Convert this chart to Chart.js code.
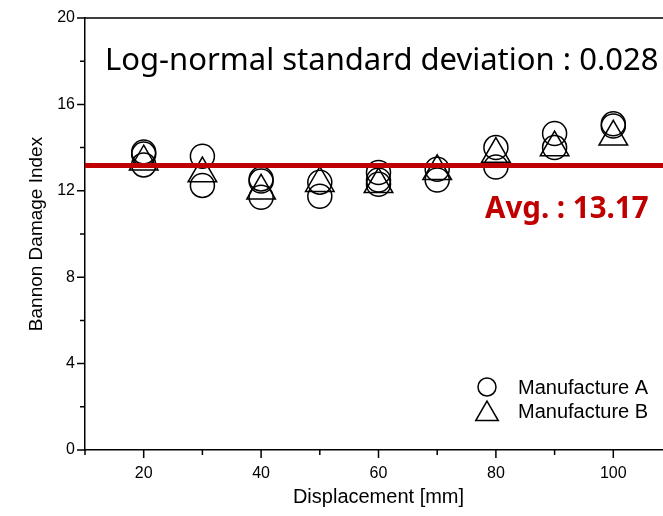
<!DOCTYPE html>
<html>
<head>
<meta charset="utf-8">
<script src="https://cdn.jsdelivr.net/npm/chart.js@4/dist/chart.umd.min.js"></script>
<style>
  html, body { margin: 0; padding: 0; background: #fff; overflow: hidden; }
  #wrap { width: 690px; height: 516px; }
</style>
</head>
<body>
<div id="wrap"><canvas id="cvs" width="690" height="516"></canvas></div>
<script>
// Bannon damage index per specimen, by displacement [mm]
const dispA = [20, 20, 20, 30, 30, 40, 40, 40, 50, 50, 60, 60, 60, 70, 70, 80, 80, 90, 90, 100, 100]
const bdiA = [13.8, 13.7, 13.2, 13.6, 12.25, 12.55, 12.45, 11.7, 12.4, 11.75, 12.85, 12.5, 12.3, 13.0, 12.5, 14.0, 13.1, 14.65, 14.0, 15.1, 15.0]
const dispB = [20, 30, 40, 50, 60, 70, 80, 90, 100]
const bdiB = [13.35, 12.8, 12.0, 12.35, 12.3, 12.9, 13.7, 14.0, 14.5]
const avgBdi = 13.17
const logStd = 0.028
const xTicks = [20, 40, 60, 80, 100]
const yTicks = [0, 4, 8, 12, 16, 20]

const ptsA = dispA.map((d, i) => ({x: d, y: bdiA[i]}))
const ptsB = dispB.map((d, i) => ({x: d, y: bdiB[i]}))

const tickFont = {family: '"Liberation Sans", Arial, sans-serif', size: 16}
const yTitleFont = {family: '"Liberation Sans", Arial, sans-serif', size: 19}
const xTitleFont = {family: '"Liberation Sans", Arial, sans-serif', size: 20}

// outward ticks (long for labelled, short for minor) + box border
const frame = {
    id: 'frame',
    afterDraw(chart) {
        const {ctx, chartArea: a, scales: {x, y}} = chart
        ctx.save()
        ctx.strokeStyle = '#000'
        ctx.lineWidth = 1.5
        ctx.beginPath()
        ctx.moveTo(a.left, a.top)
        ctx.lineTo(a.right, a.top)
        ctx.lineTo(a.right, a.bottom)
        for (const t of x.ticks) {
            const px = x.getPixelForValue(t.value)
            const len = xTicks.includes(t.value) ? 8 : 5
            ctx.moveTo(px, a.bottom)
            ctx.lineTo(px, a.bottom + len)
        }
        for (const t of y.ticks) {
            const py = y.getPixelForValue(t.value)
            const len = yTicks.includes(t.value) ? 8 : 5
            ctx.moveTo(a.left, py)
            ctx.lineTo(a.left - len, py)
        }
        ctx.stroke()

        // legend
        const lx = 487
        ctx.fillStyle = 'rgba(0,0,0,0)'
        Chart.helpers.drawPoint(ctx, {pointStyle: 'circle', radius: 9, borderWidth: 1.3}, lx, 387)
        Chart.helpers.drawPoint(ctx, {pointStyle: 'triangle', radius: 13, borderWidth: 1.3}, lx, 414)
        ctx.fillStyle = '#000'
        ctx.font = '20px "Liberation Sans", Arial, sans-serif'
        ctx.textBaseline = 'middle'
        ctx.fillText('Manufacture A', 518, 388)
        ctx.fillText('Manufacture B', 518, 412)

        // annotations
        ctx.textBaseline = 'alphabetic'
        ctx.font = '31px "Noto Sans", sans-serif'
        ctx.fillText('Log-normal standard deviation : ' + logStd, 105, 70)
        ctx.fillStyle = '#c00000'
        ctx.font = 'bold 29.5px "Noto Sans", sans-serif'
        ctx.fillText('Avg. : ' + avgBdi.toFixed(2), 485, 218)
        ctx.restore()
    }
}

new Chart(document.getElementById('cvs'), {
    type: 'scatter',
    data: {
        datasets: [
            {
                label: 'Manufacture A',
                data: ptsA,
                pointStyle: 'circle',
                pointRadius: 12,
                borderColor: '#000',
                backgroundColor: 'rgba(0,0,0,0)',
                borderWidth: 1.5,
                order: 2
            },
            {
                label: 'Manufacture B',
                data: ptsB,
                pointStyle: 'triangle',
                pointRadius: 16.5,
                borderColor: '#000',
                backgroundColor: 'rgba(0,0,0,0)',
                borderWidth: 1.5,
                order: 1
            },
            {
                label: 'Avg.',
                data: [{x: 10, y: avgBdi}, {x: 110, y: avgBdi}],
                showLine: true,
                borderColor: '#c00000',
                borderWidth: 5,
                pointRadius: 0,
                order: 0
            }
        ]
    },
    options: {
        responsive: false,
        animation: false,
        devicePixelRatio: 1,
        layout: {padding: {top: 17, right: 15, left: 0, bottom: 0}},
        plugins: {legend: {display: false}, tooltip: {enabled: false}},
        scales: {
            x: {
                type: 'linear',
                min: 10,
                max: 110,
                afterFit(scale) { scale.height = 66 },
                ticks: {
                    stepSize: 10,
                    autoSkip: false,
                    maxRotation: 0,
                    color: '#000',
                    font: tickFont,
                    padding: 6,
                    callback: (v) => xTicks.includes(v) ? v : ''
                },
                grid: {drawOnChartArea: false, drawTicks: true, tickLength: 8, tickColor: 'rgba(0,0,0,0)'},
                border: {color: '#000', width: 1.5},
                title: {display: true, text: 'Displacement [mm]', color: '#000', font: xTitleFont, padding: {top: 0, bottom: 7}}
            },
            y: {
                min: 0,
                max: 20,
                afterFit(scale) { scale.width = 85 },
                ticks: {
                    stepSize: 2,
                    autoSkip: false,
                    color: '#000',
                    font: tickFont,
                    padding: 2,
                    callback: (v) => yTicks.includes(v) ? v : ''
                },
                grid: {drawOnChartArea: false, drawTicks: true, tickLength: 8, tickColor: 'rgba(0,0,0,0)'},
                border: {color: '#000', width: 1.5},
                title: {display: true, text: 'Bannon Damage Index', color: '#000', font: yTitleFont, padding: {top: 25, bottom: 0}}
            }
        }
    },
    plugins: [frame]
})
</script>
</body>
</html>
